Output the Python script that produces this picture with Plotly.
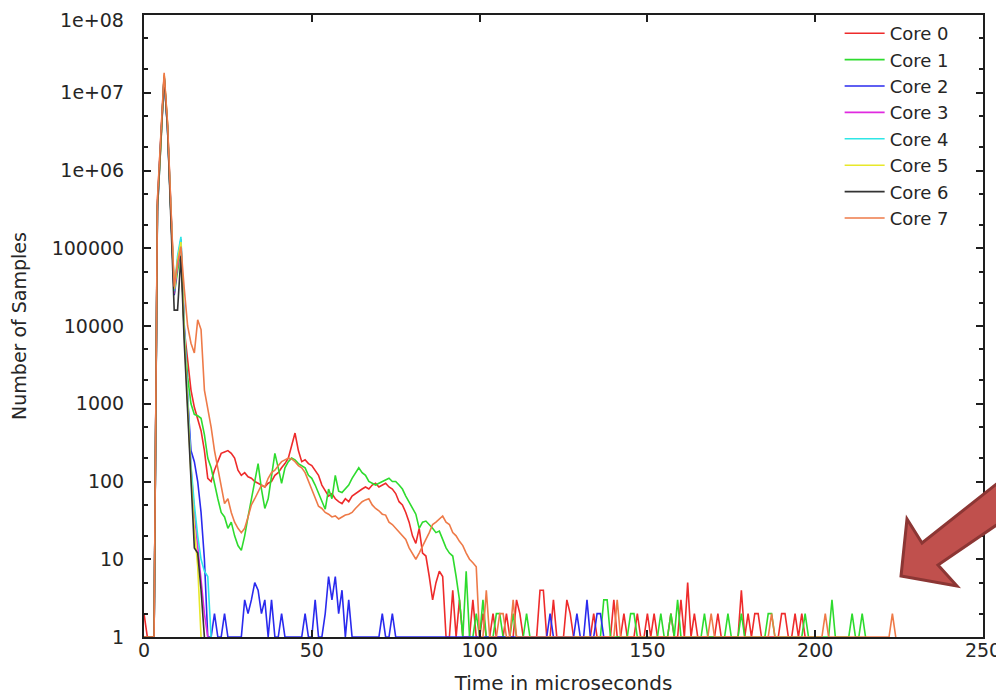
import plotly.graph_objects as go

# ---------------- data ----------------
core_names = ["Core 0", "Core 1", "Core 2", "Core 3", "Core 4", "Core 5", "Core 6", "Core 7"]
core_colors = ["#ee2b2b", "#2edb2e", "#2a2aee", "#e02ae0", "#2ee6e6", "#e8e82a", "#333333", "#ee7a48"]

# dense part, one value per microsecond starting at t = 0
core0_head = [2, 1, 1, 1, 4e5, 2.2e6, 1.7e7, 4e6, 3e5, 3e4, 6e4, 1.1e5, 9000, 3500, 1500, 900,
              650, 450, 250, 110, 100, 140, 180, 230, 240, 250, 230, 200, 140, 120, 130, 115,
              110, 100, 95, 90, 85, 95, 100, 120, 130, 150, 170, 200, 280, 420, 250, 180,
              190, 170, 160, 140, 120, 90, 75, 65, 70, 60, 55, 52, 60, 55, 65, 70,
              75, 80, 85, 80, 90, 95, 85, 90, 95, 85, 80, 70, 55, 50, 40, 30,
              20, 16, 25, 12, 11, 6, 3, 5, 7, 6, 1]
core1_head = [1, 1, 1, 1, 3e5, 2e6, 1.6e7, 3.5e6, 2.5e5, 2.5e4, 5e4, 1e5, 8000, 2200, 1000, 730,
              700, 650, 400, 200, 150, 90, 60, 40, 35, 25, 30, 20, 15, 13, 20, 35,
              60, 100, 170, 80, 45, 60, 110, 230, 150, 95, 150, 180, 200, 190, 170, 160,
              150, 120, 110, 90, 70, 55, 44, 80, 60, 120, 75, 72, 80, 90, 110, 130,
              150, 130, 120, 100, 95, 90, 95, 100, 105, 110, 100, 100, 90, 80, 65, 55,
              45, 38, 25, 30, 31, 28, 25, 22, 23, 18, 14, 12, 11, 6, 3, 1, 7, 1]
core2_head = [1, 1, 1, 1, 3e5, 1.8e6, 1.5e7, 3.5e6, 2.5e5, 2.5e4, 7e4, 1.3e5, 1e4, 1200, 250, 180,
              100, 40, 10, 1]
core3_head = [1, 1, 1, 1, 3.5e5, 2e6, 1.6e7, 3.8e6, 2.8e5, 2.6e4, 6e4, 1.1e5, 9000, 1000, 150, 40,
              15, 5, 2, 1]
core4_head = [1, 1, 1, 1, 3.5e5, 2e6, 1.6e7, 3.8e6, 2.8e5, 2.8e4, 8e4, 1.4e5, 1e4, 1100, 160, 50,
              20, 10, 7, 6, 1]
core5_head = [1, 1, 1, 1, 3.5e5, 2e6, 1.7e7, 4e6, 3e5, 3e4, 7e4, 1.2e5, 8000, 900, 120, 25,
              8, 1]
core6_head = [1, 1, 1, 1, 3.5e5, 2e6, 1.6e7, 3.6e6, 2.6e5, 1.6e4, 1.6e4, 8e4, 6000, 900, 130, 14,
              12, 4, 1]
core7_head = [1, 1, 1, 1, 4.2e5, 2.3e6, 1.8e7, 4.2e6, 3.2e5, 3.2e4, 6.5e4, 1.05e5, 3e4, 1e4, 6000, 4500,
              12000, 9000, 1500, 900, 500, 250, 150, 80, 52, 60, 40, 30, 25, 22, 25, 35,
              50, 60, 75, 90, 85, 110, 130, 140, 160, 180, 190, 200, 195, 180, 160, 150,
              130, 100, 80, 60, 48, 45, 40, 38, 35, 36, 33, 35, 37, 38, 40, 45,
              50, 55, 58, 60, 50, 45, 42, 38, 37, 30, 28, 25, 22, 20, 18, 14,
              12, 10, 12, 15, 18, 22, 28, 30, 33, 36, 30, 28, 22, 20, 17, 15,
              12, 10, 9, 8, 1]

# sparse tail: samples above the 1-count floor (time, count)
core0_tail_t = [92, 94, 98, 101, 104, 108, 111, 112, 118, 119, 122, 126, 127, 134, 140, 143,
                147, 150, 152, 157, 160, 162, 164, 171, 178, 180, 182, 183, 190, 191, 194, 196]
core0_tail_n = [4, 3, 3, 2, 2, 2, 3, 2, 4, 4, 3, 3, 2, 2, 3, 2,
                2, 2, 2, 2, 3, 5, 2, 2, 4, 2, 2, 2, 2, 2, 2, 2]
core1_tail_t = [99, 101, 105, 106, 110, 114, 137, 138, 145, 146, 154, 157, 159, 167, 174, 178,
                186, 187, 197, 205, 211, 214]
core1_tail_n = [2, 3, 2, 2, 2, 2, 3, 3, 2, 2, 2, 2, 3, 2, 2, 2,
                2, 2, 2, 3, 2, 2]
core2_tail_t = [21, 24, 30, 31, 32, 33, 34, 35, 36, 38, 41, 48, 51, 54, 55, 56,
                57, 58, 59, 61, 71, 74, 121, 129, 132, 135, 136]
core2_tail_n = [2, 2, 3, 2, 3, 5, 4, 2, 3, 3, 2, 2, 3, 2, 6, 3,
                6, 2, 4, 3, 2, 2, 2, 2, 3, 2, 2]
core7_tail_t = [102, 106, 107, 110, 141, 169, 187, 203, 223]
core7_tail_n = [4, 2, 2, 3, 3, 2, 2, 2, 2]

core_end = [197, 215, 137, 19, 20, 17, 18, 224]

x_ticks = [0, 50, 100, 150, 200, 250]
y_ticks = [1, 10, 100, 1000, 1e4, 1e5, 1e6, 1e7, 1e8]
y_tick_text = ["1", "10", "100", "1000", "10000", "100000", "1e+06", "1e+07", "1e+08"]

# ---------------- build series ----------------
heads = [core0_head, core1_head, core2_head, core3_head, core4_head, core5_head, core6_head, core7_head]
tails = [(core0_tail_t, core0_tail_n), (core1_tail_t, core1_tail_n), (core2_tail_t, core2_tail_n),
         ([], []), ([], []), ([], []), ([], []), (core7_tail_t, core7_tail_n)]

FONT = "DejaVu Sans"
TXT = "#262626"
OFF = 8                      # page body margin of the html page
W, H = 1004 - OFF, 697 - OFF
# plot area in page pixels: x 144..983, y 15..637
ML = 144 - OFF
MT = 15 - OFF
MR = W - (983 - OFF)
MB = H - (637 - OFF)

fig = go.Figure()
for name, color, head, (tt, tn), end in zip(core_names, core_colors, heads, tails, core_end):
    counts = [1] * (end + 1)
    counts[:len(head)] = head
    for t, v in zip(tt, tn):
        counts[t] = v
    fig.add_trace(go.Scatter(x=list(range(len(counts))), y=counts, mode="lines", name=name,
                             line=dict(color=color, width=1.6)))

# decorative arrow (page pixel coordinates converted to paper space)
arrow_px = [(901, 576), (907, 519), (922, 543), (1004, 478), (1004, 520), (938, 565), (957, 586)]
pw, ph = 983 - 144, 637 - 15
pts = [((x - 144) / pw, (637 - y) / ph) for x, y in arrow_px]
path = "M " + " L ".join(f"{x:.4f},{y:.4f}" for x, y in pts) + " Z"
fig.add_shape(type="path", path=path, xref="paper", yref="paper",
              fillcolor="#c0504d", line=dict(color="#8c3634", width=3), layer="above")

# the top tick label sits at the page edge; draw it as an annotation nudged inside the page
top_label = y_tick_text[-1]
y_label_text = y_tick_text[:-1] + [""]
fig.add_annotation(text=top_label, xref="paper", yref="paper", x=0, y=1,
                   xanchor="right", yanchor="top", xshift=-19, yshift=7, showarrow=False,
                   font=dict(family=FONT, size=19, color=TXT), borderpad=0)

axis_common = dict(showline=True, linecolor="#1e1e1e", linewidth=2, mirror="ticks",
                   ticks="inside", ticklen=7, tickcolor="#1e1e1e", tickwidth=1.5,
                   showgrid=False, zeroline=False, ticklabeloverflow="allow",
                   tickfont=dict(family=FONT, size=19, color=TXT))

fig.update_xaxes(range=[0, 250], tickvals=x_ticks, ticktext=[str(v) for v in x_ticks],
                 title=dict(text="Time in microseconds", font=dict(family=FONT, size=20, color=TXT),
                            standoff=16),
                 ticklabelstandoff=-5, **axis_common)
fig.update_yaxes(type="log", range=[0, 8], tickvals=y_ticks, ticktext=y_label_text,
                 title=dict(text="Number of Samples", font=dict(family=FONT, size=19, color=TXT),
                            standoff=22),
                 ticklabelstandoff=14,
                 minor=dict(ticks="inside", ticklen=4, tickcolor="#1e1e1e", dtick="D2", showgrid=False),
                 **axis_common)

fig.update_layout(
    width=W, height=H,
    margin=dict(l=ML, r=MR, t=MT, b=MB, autoexpand=False),
    paper_bgcolor="white", plot_bgcolor="white",
    font=dict(family=FONT, color=TXT),
    showlegend=True,
    legend=dict(x=0.965, xanchor="right", y=1.0, yanchor="top", bgcolor="rgba(0,0,0,0)",
                font=dict(family=FONT, size=18, color=TXT), tracegroupgap=0, itemwidth=40),
)

fig.write_html("out.html")
